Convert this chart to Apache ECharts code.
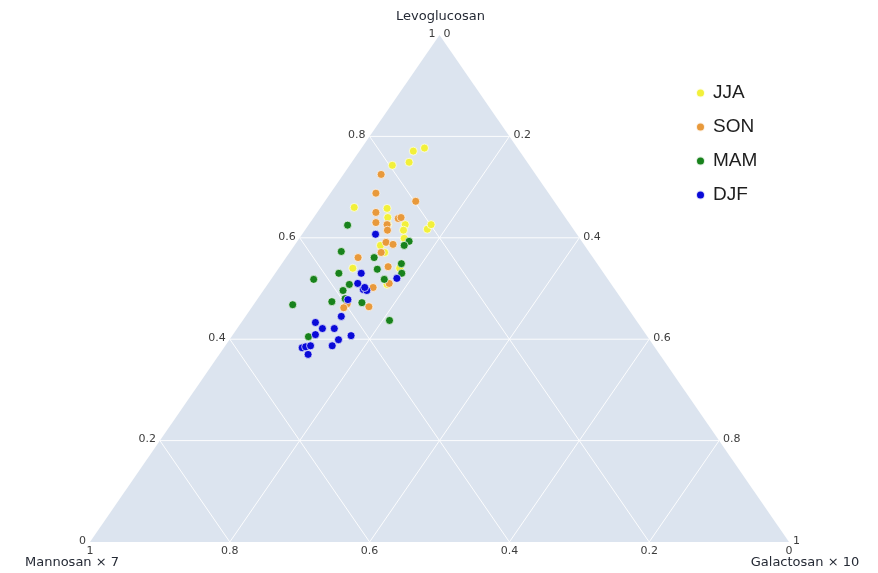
<!DOCTYPE html>
<html>
<head>
<meta charset="utf-8">
<title>Ternary plot</title>
<script src="https://cdn.jsdelivr.net/npm/echarts@6/dist/echarts.min.js"></script>
<style>
    html, body { margin: 0; padding: 0; background: #fff; }
    #main { width: 878px; height: 573px; }
</style>
</head>
<body>
<div id="main"></div>
<script>
// fractions: Levoglucosan, Mannosan x 7, Galactosan x 10
const jjaLevo = [0.777, 0.771, 0.749, 0.743, 0.660, 0.658, 0.640, 0.626, 0.626, 0.615, 0.617, 0.626, 0.599, 0.585, 0.571, 0.540, 0.540, 0.508];
const jjaMann = [0.133, 0.152, 0.169, 0.196, 0.292, 0.246, 0.254, 0.261, 0.236, 0.244, 0.209, 0.199, 0.251, 0.292, 0.293, 0.354, 0.287, 0.321];
const jjaGala = [0.090, 0.077, 0.082, 0.061, 0.048, 0.096, 0.106, 0.113, 0.138, 0.141, 0.174, 0.175, 0.150, 0.123, 0.136, 0.106, 0.173, 0.171];

const sonLevo = [0.725, 0.688, 0.672, 0.650, 0.630, 0.626, 0.638, 0.640, 0.615, 0.591, 0.587, 0.571, 0.561, 0.543, 0.502, 0.510, 0.470, 0.462, 0.464];
const sonMann = [0.221, 0.247, 0.198, 0.266, 0.276, 0.262, 0.240, 0.235, 0.267, 0.281, 0.273, 0.298, 0.336, 0.302, 0.344, 0.317, 0.397, 0.406, 0.369];
const sonGala = [0.054, 0.065, 0.130, 0.084, 0.094, 0.112, 0.122, 0.125, 0.118, 0.128, 0.140, 0.131, 0.103, 0.155, 0.154, 0.173, 0.133, 0.132, 0.167];

const mamLevo = [0.625, 0.573, 0.561, 0.593, 0.585, 0.549, 0.538, 0.530, 0.530, 0.518, 0.518, 0.508, 0.496, 0.480, 0.474, 0.472, 0.468, 0.437, 0.405];
const mamMann = [0.319, 0.354, 0.313, 0.247, 0.258, 0.280, 0.320, 0.289, 0.379, 0.421, 0.320, 0.375, 0.390, 0.395, 0.417, 0.375, 0.476, 0.353, 0.485];
const mamGala = [0.056, 0.073, 0.126, 0.160, 0.157, 0.171, 0.142, 0.181, 0.091, 0.061, 0.162, 0.117, 0.114, 0.125, 0.109, 0.153, 0.056, 0.210, 0.110];

const djfLevo = [0.607, 0.530, 0.520, 0.510, 0.498, 0.496, 0.502, 0.478, 0.445, 0.433, 0.421, 0.421, 0.409, 0.407, 0.399, 0.383, 0.385, 0.387, 0.387, 0.370];
const djfMann = [0.288, 0.347, 0.301, 0.362, 0.360, 0.356, 0.356, 0.392, 0.418, 0.461, 0.457, 0.440, 0.473, 0.423, 0.445, 0.505, 0.499, 0.491, 0.460, 0.503];
const djfGala = [0.105, 0.123, 0.179, 0.128, 0.142, 0.148, 0.142, 0.130, 0.137, 0.106, 0.122, 0.139, 0.118, 0.170, 0.156, 0.112, 0.116, 0.122, 0.153, 0.127];

const seasons = ['JJA', 'SON', 'MAM', 'DJF'];
const seasonColors = ['#f2f03a', '#e8993b', '#18821c', '#0a0ad8'];

const gridTicks = [0.2, 0.4, 0.6, 0.8];
const tickValues = [0, 0.2, 0.4, 0.6, 0.8, 1];
const tickLabels = ['0', '0.2', '0.4', '0.6', '0.8', '1'];
const axisTitles = ['Levoglucosan', 'Mannosan \u00d7 7', 'Galactosan \u00d7 10'];

// ternary (a = levo, b = mann, c = gala) -> cartesian on a 0..1 grid
function toXY(a, b, c) {
    const s = a + b + c;
    a = a / s; c = c / s;
    return [c + a / 2, a];
}

function buildPoints(levo, mann, gala) {
    return levo.map((a, i) => toXY(a, mann[i], gala[i]));
}

const tickFont = { fontFamily: 'DejaVu Sans', fontSize: 11, fill: '#3c3c3c' };
const titleFont = { fontFamily: 'DejaVu Sans', fontSize: 13, fill: '#252a35' };

function renderFrame(params, api) {
    const P = (a, c) => api.coord([c + a / 2, a]);
    const children = [];
    const lineStyle = { stroke: '#ffffff', lineWidth: 1, opacity: 0.9 };

    children.push({
        type: 'polygon',
        shape: { points: [P(1, 0), P(0, 0), P(0, 1)] },
        style: { fill: '#dce4ef' }
    });

    gridTicks.forEach(t => {
        let p1 = P(t, 0), p2 = P(t, 1 - t);
        children.push({ type: 'line', shape: { x1: p1[0], y1: p1[1], x2: p2[0], y2: p2[1] }, style: lineStyle });
        p1 = P(0, t); p2 = P(1 - t, t);
        children.push({ type: 'line', shape: { x1: p1[0], y1: p1[1], x2: p2[0], y2: p2[1] }, style: lineStyle });
        p1 = P(0, 1 - t); p2 = P(1 - t, 0);
        children.push({ type: 'line', shape: { x1: p1[0], y1: p1[1], x2: p2[0], y2: p2[1] }, style: lineStyle });
    });

    tickValues.forEach((t, i) => {
        // levoglucosan along the left edge
        let p = P(t, 0);
        children.push({
            type: 'text', x: p[0] - 4, y: p[1] - 1,
            style: Object.assign({ text: tickLabels[i], align: 'right', verticalAlign: 'middle' }, tickFont)
        });
        // galactosan along the right edge
        p = P(1 - t, t);
        children.push({
            type: 'text', x: p[0] + 4, y: p[1] - 1,
            style: Object.assign({ text: tickLabels[i], align: 'left', verticalAlign: 'middle' }, tickFont)
        });
        // mannosan along the bottom
        p = P(0, 1 - t);
        children.push({
            type: 'text', x: p[0], y: p[1] + 4,
            style: Object.assign({ text: tickLabels[i], align: 'center', verticalAlign: 'top' }, tickFont)
        });
    });

    let p = P(1, 0);
    children.push({ type: 'text', x: p[0] + 1, y: p[1] - 18,
        style: Object.assign({ text: axisTitles[0], align: 'center', verticalAlign: 'middle' }, titleFont) });
    p = P(0, 0);
    children.push({ type: 'text', x: p[0] - 18, y: p[1] + 21,
        style: Object.assign({ text: axisTitles[1], align: 'center', verticalAlign: 'middle' }, titleFont) });
    p = P(0, 1);
    children.push({ type: 'text', x: p[0] + 16, y: p[1] + 21,
        style: Object.assign({ text: axisTitles[2], align: 'center', verticalAlign: 'middle' }, titleFont) });

    return { type: 'group', children: children };
}

const seriesData = [
    buildPoints(jjaLevo, jjaMann, jjaGala),
    buildPoints(sonLevo, sonMann, sonGala),
    buildPoints(mamLevo, mamMann, mamGala),
    buildPoints(djfLevo, djfMann, djfGala)
];

const myChart = echarts.init(document.getElementById('main'));

let option = {
    animation: false,
    backgroundColor: '#ffffff',
    grid: { left: 90, right: 89, top: 35, bottom: 31 },
    xAxis: { type: 'value', min: 0, max: 1, show: false },
    yAxis: { type: 'value', min: 0, max: 1, show: false },
    legend: {
        data: seasons,
        orient: 'vertical',
        left: 690,
        top: 78,
        itemWidth: 9,
        itemHeight: 9,
        itemGap: 14,
        icon: 'circle',
        textStyle: { fontFamily: 'Liberation Sans', fontSize: 19, lineHeight: 20, color: '#1e1e1e', padding: [0, 0, 0, 3] }
    },
    series: [
        {
            name: 'frame',
            type: 'custom',
            z: 1,
            silent: true,
            data: [[0, 0]],
            renderItem: renderFrame
        }
    ].concat(seasons.map((name, i) => ({
        name: name,
        type: 'scatter',
        z: 3,
        symbolSize: 8,
        itemStyle: { color: seasonColors[i], opacity: 1, borderColor: 'rgba(255,255,255,0.85)', borderWidth: 0.8 },
        data: seriesData[i]
    })))
};

myChart.setOption(option);
</script>
</body>
</html>
